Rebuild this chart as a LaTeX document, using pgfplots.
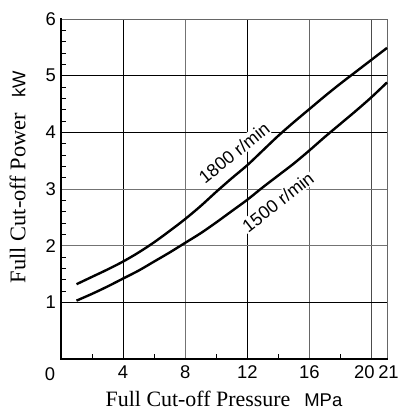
\documentclass[border=0pt]{standalone}
\usepackage{fontspec}
\setmainfont{Liberation Sans}
\newfontfamily\serif{Liberation Serif}
\usepackage{pgfplots}
\pgfplotsset{compat=1.18}
\begin{document}
\begin{tikzpicture}
\begin{axis}[
 scale only axis, width=326bp, height=340bp,
 xmin=0, xmax=21, ymin=0, ymax=6,
 axis line style={draw=none},
 xtick={4,8,12,16,20,21}, ytick={1,2,3,4,5,6},
 xticklabels={4,8,12,16,{\hspace*{-14bp}20},{21\hspace*{-3bp}}},
 minor xtick={2,6,10,14,18}, minor y tick num=4,
 tick align=inside, tick pos=left,
 major tick length=0pt, minor tick length=5bp,
 minor tick style={black, line width=0.8bp},
 /pgf/number format/assume math mode=true,
 tick label style={font=\fontsize{18.5}{20}\selectfont},
 xticklabel style={yshift=-3bp, inner xsep=0pt},
 yticklabel style={xshift=-1.5bp},
 clip=false,
 xlabel={{\serif Full Cut-off Pressure}\hspace{14bp}{\fontsize{18.5}{20}\selectfont MPa}},
 xlabel style={font=\fontsize{22}{24}\selectfont, at={(axis description cs:0.5,0)}, anchor=center, yshift=-40bp},
 ylabel={{\serif Full Cut-off Power}\hspace{15bp}{\fontsize{18.5}{20}\selectfont kW}},
 ylabel style={font=\fontsize{22.5}{24}\selectfont, at={(axis description cs:-0.133,0.535)}, anchor=center},
]
\draw[black, line width=0.8bp] (axis cs:4,0) -- (axis cs:4,6);
\draw[black!55, line width=0.8bp] (axis cs:8,0) -- (axis cs:8,6);
\draw[black, line width=0.8bp] (axis cs:12,0) -- (axis cs:12,6);
\draw[black!60, line width=0.8bp] (axis cs:16,0) -- (axis cs:16,6);
\draw[black!70, line width=0.8bp] (axis cs:20,0) -- (axis cs:20,6);
\draw[black, line width=0.8bp] (axis cs:0,1) -- (axis cs:21,1);
\draw[black!55, line width=0.8bp] (axis cs:0,2) -- (axis cs:21,2);
\draw[black!55, line width=0.8bp] (axis cs:0,3) -- (axis cs:21,3);
\draw[black, line width=0.8bp] (axis cs:0,4) -- (axis cs:21,4);
\draw[black, line width=0.8bp] (axis cs:0,5) -- (axis cs:21,5);
\draw[black!60, line width=0.9bp] (axis cs:0,6) -- (axis cs:21,6) -- (axis cs:21,0);
\node[rotate=39, fill=white, inner sep=1bp, font=\fontsize{18}{19}\selectfont] at (axis cs:11.15,3.64) {1800 r/min};
\node[rotate=38, fill=white, inner sep=1bp, font=\fontsize{18}{19}\selectfont] at (axis cs:13.97,2.77) {1500 r/min};
\addplot[black, line width=2.4bp, smooth] coordinates {
(1,1.32) (2,1.45) (3,1.58) (4,1.72) (5,1.88) (6,2.06) (7,2.26) (8,2.47) (9,2.70) (10,2.95) (11,3.19) (12,3.42) (13,3.68) (14,3.94) (15,4.18) (16,4.41) (17,4.64) (18,4.86) (19,5.07) (20,5.28) (21,5.49)};
\addplot[black, line width=2.4bp, smooth] coordinates {
(1,1.03) (2,1.15) (3,1.28) (4,1.42) (5,1.56) (6,1.72) (7,1.88) (8,2.05) (9,2.22) (10,2.41) (11,2.61) (12,2.81) (13,3.03) (14,3.24) (15,3.45) (16,3.68) (17,3.92) (18,4.15) (19,4.38) (20,4.62) (21,4.88)};
\draw[black, line width=2.6bp, line cap=rect] (axis cs:0,6) -- (axis cs:0,0) -- (axis cs:21,0);
\node[font=\fontsize{18.5}{20}\selectfont] at ([shift={(-11bp,-15bp)}]axis cs:0,0) {0};
\end{axis}
\pgfresetboundingbox
\path (current axis.south west) ++(-61bp,-56bp) rectangle ([shift={(16bp,19bp)}]current axis.north east);
\end{tikzpicture}
\end{document}
